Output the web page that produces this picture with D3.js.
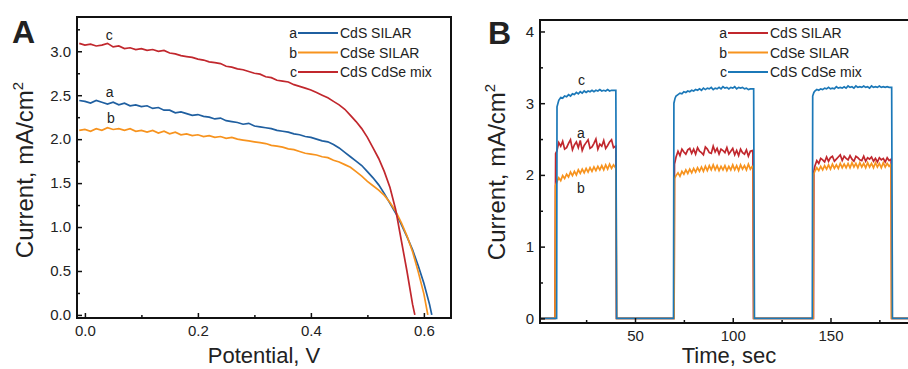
<!DOCTYPE html>
<html>
<head>
<meta charset="utf-8">
<script src="https://cdn.jsdelivr.net/npm/d3@7"></script>
<style>
  body { margin: 0; background: #fff; }
  text { font-family: "Liberation Sans", Arial, sans-serif; fill: #222; }
</style>
</head>
<body>
<div id="chart"></div>
<script>
// ---------- data: panel A (J-V curves) ----------
const potA = [-0.01,0.00,0.01,0.02,0.03,0.04,0.05,0.06,0.07,0.08,0.09,0.10,0.11,0.12,0.13,0.14,0.15,0.16,0.17,0.18,0.19,
  0.20,0.21,0.22,0.23,0.24,0.25,0.26,0.27,0.28,0.29,0.30,0.31,0.32,0.33,0.34,0.35,0.36,0.37,0.38,0.39,
  0.40,0.41,0.42,0.43,0.44,0.45,0.46,0.47,0.48,0.49,0.50,0.51,0.52,0.53,0.54,0.55,0.56,0.57,0.58,0.59,0.60,0.61];
const curA_CdS = [2.44,2.43,2.41,2.44,2.42,2.40,2.42,2.39,2.41,2.38,2.39,2.37,2.38,2.35,2.36,2.33,2.33,2.30,2.31,2.29,2.27,
  2.28,2.26,2.25,2.23,2.24,2.21,2.20,2.19,2.17,2.18,2.15,2.14,2.13,2.12,2.10,2.09,2.08,2.06,2.05,2.03,
  2.02,2.00,1.98,1.97,1.94,1.90,1.85,1.80,1.75,1.70,1.63,1.56,1.48,1.38,1.27,1.16,1.03,0.89,0.74,0.56,0.36,0.12];
const curA_CdSe = [2.10,2.11,2.09,2.12,2.10,2.13,2.11,2.12,2.10,2.12,2.09,2.10,2.08,2.10,2.07,2.09,2.06,2.08,2.05,2.06,2.04,
  2.05,2.03,2.04,2.02,2.03,2.01,2.02,2.00,1.99,1.98,1.97,1.96,1.95,1.93,1.92,1.91,1.89,1.88,1.86,1.84,
  1.83,1.82,1.80,1.79,1.76,1.74,1.71,1.68,1.63,1.58,1.52,1.47,1.42,1.36,1.28,1.18,1.05,0.90,0.72,0.49,0.24,null];
const curA_mix = [3.09,3.07,3.08,3.06,3.07,3.09,3.05,3.06,3.03,3.04,3.02,3.03,3.01,3.02,3.00,3.01,2.98,2.97,2.95,2.94,2.93,
  2.91,2.90,2.88,2.87,2.86,2.83,2.82,2.80,2.79,2.77,2.75,2.74,2.71,2.70,2.67,2.66,2.65,2.62,2.60,2.58,
  2.56,2.53,2.50,2.47,2.43,2.39,2.34,2.27,2.20,2.12,2.02,1.90,1.78,1.63,1.45,1.20,0.85,0.50,0.12,null,null,null];
// open-circuit end points [V, I]
const vocA = { CdS: [0.614, 0], CdSe: [0.607, 0], mix: [0.584, 0] };

// ---------- data: panel B (transient photocurrent) ----------
const timeB_CdS = [1.4,9.0,9.4,10,11,12,13,14,15,16,17,18,19,20,21,22,23,24,25,26,27,28,29,30,31,32,33,34,35,36,37,38,39,40,40.2,40.5,
  70.0,70.2,71,72,73,74,75,76,77,78,79,80,81,82,83,84,85,86,87,88,89,90,91,92,93,94,95,96,97,98,99,100,101,102,103,104,105,106,107,108,109,110,110.3,110.6,
  141.3,141.5,142,143,144,145,146,147,148,149,150,151,152,153,154,155,156,157,158,159,160,161,162,163,164,165,166,167,168,169,170,171,172,173,174,175,176,177,178,179,180,181,181.3,191];
const curB_CdS = [0,0,2.30,2.33,2.45,2.40,2.47,2.36,2.38,2.44,2.49,2.35,2.42,2.46,2.38,2.48,2.34,2.41,2.45,2.49,2.37,2.39,2.44,2.50,2.36,2.43,2.40,2.48,2.37,2.41,2.46,2.49,2.38,2.40,2.40,0,
  0,2.15,2.25,2.33,2.27,2.36,2.32,2.29,2.35,2.37,2.30,2.36,2.29,2.38,2.33,2.31,2.28,2.39,2.36,2.31,2.30,2.40,2.32,2.37,2.29,2.36,2.34,2.31,2.38,2.29,2.33,2.37,2.28,2.34,2.27,2.36,2.31,2.29,2.35,2.26,2.33,2.34,2.30,0,
  0,2.05,2.12,2.20,2.16,2.23,2.21,2.18,2.25,2.19,2.24,2.26,2.19,2.22,2.25,2.28,2.20,2.26,2.23,2.21,2.27,2.22,2.19,2.26,2.24,2.21,2.20,2.26,2.19,2.24,2.22,2.25,2.19,2.23,2.18,2.24,2.21,2.23,2.18,2.24,2.20,2.22,0,0];
const timeB_CdSe = [1.4,9.1,9.3,10,11,12,13,14,15,16,17,18,19,20,21,22,23,24,25,26,27,28,29,30,31,32,33,34,35,36,37,38,39,40,40.3,40.6,
  70.0,70.2,71,72,73,74,75,76,77,78,79,80,81,82,83,84,85,86,87,88,89,90,91,92,93,94,95,96,97,98,99,100,101,102,103,104,105,106,107,108,109,110,110.5,110.8,
  141.1,141.3,142,143,144,145,146,147,148,149,150,151,152,153,154,155,156,157,158,159,160,161,162,163,164,165,166,167,168,169,170,171,172,173,174,175,176,177,178,179,180,181,181.2,191];
const curB_CdSe = [0,0,1.85,1.90,1.96,1.92,1.99,1.95,2.01,1.97,2.04,1.99,2.05,2.00,2.07,2.02,2.08,2.03,2.09,2.04,2.10,2.05,2.11,2.06,2.12,2.07,2.13,2.07,2.14,2.08,2.15,2.09,2.14,2.10,2.10,0,
  0,1.95,1.99,2.03,1.98,2.05,2.01,2.07,2.02,2.08,2.03,2.09,2.04,2.10,2.05,2.11,2.05,2.12,2.06,2.13,2.07,2.14,2.07,2.13,2.06,2.12,2.07,2.13,2.06,2.12,2.07,2.14,2.07,2.13,2.06,2.14,2.08,2.13,2.07,2.15,2.08,2.12,2.12,0,
  0,2.00,2.05,2.10,2.06,2.12,2.07,2.13,2.08,2.14,2.08,2.15,2.09,2.14,2.09,2.16,2.10,2.15,2.10,2.16,2.10,2.17,2.11,2.16,2.10,2.17,2.11,2.16,2.10,2.17,2.11,2.16,2.10,2.17,2.11,2.16,2.10,2.17,2.11,2.16,2.12,2.15,0,0];
const timeB_mix = [1.4,9.9,10.1,11,12,13,14,15,16,17,18,19,20,21,22,23,24,25,26,27,28,29,30,31,32,33,34,35,36,37,38,39,40.2,40.6,
  69.7,69.9,70.5,71,72,73,74,75,76,77,78,79,80,81,82,83,84,85,86,87,88,89,90,91,92,93,94,95,96,97,98,99,100,101,102,103,104,105,106,107,108,109,110.7,111.1,
  140.7,140.9,141.5,142,143,144,145,146,147,148,149,150,151,152,153,154,155,156,157,158,159,160,161,162,163,164,165,166,167,168,169,170,171,172,173,174,175,176,177,178,179,180,181.3,181.7,191];
const curB_mix = [0,0,2.95,3.04,3.08,3.07,3.10,3.09,3.12,3.10,3.13,3.12,3.15,3.13,3.16,3.14,3.17,3.15,3.17,3.16,3.18,3.16,3.18,3.17,3.19,3.17,3.18,3.17,3.19,3.17,3.18,3.18,3.18,0,
  0,3.00,3.07,3.10,3.12,3.14,3.13,3.16,3.15,3.17,3.16,3.18,3.17,3.19,3.18,3.20,3.18,3.21,3.19,3.21,3.20,3.22,3.19,3.21,3.20,3.22,3.20,3.23,3.21,3.22,3.20,3.22,3.21,3.23,3.20,3.22,3.21,3.22,3.20,3.21,3.19,3.20,3.20,0,
  0,3.10,3.15,3.17,3.19,3.18,3.20,3.19,3.21,3.20,3.22,3.20,3.21,3.20,3.23,3.21,3.22,3.21,3.23,3.21,3.24,3.22,3.23,3.21,3.24,3.22,3.23,3.22,3.24,3.22,3.23,3.21,3.24,3.22,3.23,3.22,3.24,3.22,3.23,3.22,3.23,3.22,3.22,0,0];

const legendNames = ["CdS SILAR", "CdSe SILAR", "CdS CdSe mix"];
const curveTags = ["a", "b", "c"];

const RED = "#c1272d", ORANGE = "#f7931e", BLUE_A = "#1f5fa0", BLUE_B = "#1b78b8";

const WIDTH = 908, HEIGHT = 369;
const svg = d3.select("#chart").append("svg")
  .attr("width", WIDTH).attr("height", HEIGHT);

// ---------- helpers ----------
function pairs(xs, ys) {
  return xs.map((x, i) => [x, ys[i]]).filter(d => d[1] !== null);
}

function drawFrame(g, X, Y, box, opt) {
  // major & minor ticks pointing inward
  g.append("g").attr("transform", "translate(0," + box.bottom + ")")
    .call(d3.axisBottom(X).tickValues(opt.xMajor).tickFormat(opt.xFormat).tickSize(-5).tickPadding(7))
    .call(a => a.select(".domain").remove())
    .attr("font-size", "15px");
  g.append("g").attr("transform", "translate(0," + box.bottom + ")")
    .call(d3.axisBottom(X).tickValues(opt.xMinor).tickFormat("").tickSize(-3))
    .call(a => a.select(".domain").remove());
  g.append("g").attr("transform", "translate(" + box.left + ",0)")
    .call(d3.axisLeft(Y).tickValues(opt.yMajor).tickFormat(opt.yFormat).tickSize(-5).tickPadding(6))
    .call(a => a.select(".domain").remove())
    .attr("font-size", "15px");
  g.append("g").attr("transform", "translate(" + box.left + ",0)")
    .call(d3.axisLeft(Y).tickValues(opt.yMinor).tickFormat("").tickSize(-3))
    .call(a => a.select(".domain").remove());
  g.selectAll(".tick line").attr("stroke", "#111").attr("stroke-width", 1.5);
  g.selectAll(".tick text").attr("fill", "#222");
  g.append("rect")
    .attr("x", box.left).attr("y", box.top)
    .attr("width", box.right - box.left).attr("height", box.bottom - box.top)
    .attr("fill", "none").attr("stroke", "#111").attr("stroke-width", 2);
}

function drawLegend(g, x, y0, colors) {
  legendNames.forEach((name, i) => {
    const y = y0 + i * 19.5;
    g.append("text").attr("x", x).attr("y", y + 5).attr("font-size", "14px")
      .attr("text-anchor", "end").text(curveTags[i]);
    g.append("line").attr("x1", x + 1).attr("x2", x + 41).attr("y1", y).attr("y2", y)
      .attr("stroke", colors[i]).attr("stroke-width", 2);
    g.append("text").attr("x", x + 43).attr("y", y + 5).attr("font-size", "14px").text(name);
  });
}

// ---------- PANEL A ----------
const boxA = {left: 77, right: 451, top: 17, bottom: 318};
const XA = d3.scaleLinear().domain([-0.014, 0.648]).range([boxA.left, boxA.right]);
const YA = d3.scaleLinear().domain([-0.035, 3.39]).range([boxA.bottom, boxA.top]);
const gA = svg.append("g");

svg.append("clipPath").attr("id", "clipA").append("rect")
  .attr("x", boxA.left).attr("y", boxA.top)
  .attr("width", boxA.right - boxA.left).attr("height", boxA.bottom - boxA.top);

const lineA = d3.line().x(d => XA(d[0])).y(d => YA(d[1]));
const seriesA = [
  {data: pairs(potA, curA_CdS).concat([vocA.CdS]), color: BLUE_A},
  {data: pairs(potA, curA_CdSe).concat([vocA.CdSe]), color: ORANGE},
  {data: pairs(potA, curA_mix).concat([vocA.mix]), color: RED}
];
gA.append("g").attr("clip-path", "url(#clipA)")
  .selectAll("path").data(seriesA).enter().append("path")
  .attr("d", d => lineA(d.data))
  .attr("fill", "none").attr("stroke", d => d.color).attr("stroke-width", 1.7);

drawFrame(gA, XA, YA, boxA, {
  xMajor: [0, 0.2, 0.4, 0.6], xMinor: [0.1, 0.3, 0.5], xFormat: d3.format(".1f"),
  yMajor: [0, 0.5, 1, 1.5, 2, 2.5, 3], yMinor: [0.25, 0.75, 1.25, 1.75, 2.25, 2.75, 3.25], yFormat: d3.format(".1f")
});

// curve tags
gA.append("text").attr("x", XA(0.037)).attr("y", YA(3.13)).attr("font-size", "14px").text("c");
gA.append("text").attr("x", XA(0.037)).attr("y", YA(2.48)).attr("font-size", "14px").text("a");
gA.append("text").attr("x", XA(0.039)).attr("y", YA(2.185)).attr("font-size", "14px").text("b");

drawLegend(gA, 297, 33, [BLUE_A, ORANGE, RED]);

gA.append("text").attr("x", 12).attr("y", 43).attr("font-size", "32px").attr("font-weight", "bold")
  .attr("fill", "#111").text("A");
gA.append("text").attr("x", 264).attr("y", 363).attr("font-size", "22px").attr("text-anchor", "middle")
  .text("Potential, V");
gA.append("text").attr("transform", "translate(33,170) rotate(-90)").attr("font-size", "24px")
  .attr("text-anchor", "middle")
  .html("Current, mA/cm<tspan dy='-10' font-size='15px'>2</tspan>");

// ---------- PANEL B ----------
const boxB = {left: 540, right: 912, top: 20, bottom: 323};
const XB = d3.scaleLinear().domain([1.4, 191.7]).range([boxB.left, boxB.right]);
const YB = d3.scaleLinear().domain([-0.065, 4.16]).range([boxB.bottom, boxB.top]);
const gB = svg.append("g");

svg.append("clipPath").attr("id", "clipB").append("rect")
  .attr("x", boxB.left).attr("y", boxB.top)
  .attr("width", boxB.right - boxB.left).attr("height", boxB.bottom - boxB.top);

const lineB = d3.line().x(d => XB(d[0])).y(d => YB(d[1]));
const seriesB = [
  {data: pairs(timeB_CdS, curB_CdS), color: RED},
  {data: pairs(timeB_CdSe, curB_CdSe), color: ORANGE},
  {data: pairs(timeB_mix, curB_mix), color: BLUE_B}
];
gB.append("g").attr("clip-path", "url(#clipB)")
  .selectAll("path").data(seriesB).enter().append("path")
  .attr("d", d => lineB(d.data))
  .attr("fill", "none").attr("stroke", d => d.color).attr("stroke-width", 1.7);

drawFrame(gB, XB, YB, boxB, {
  xMajor: [50, 100, 150], xMinor: [25, 75, 125, 175], xFormat: d3.format("d"),
  yMajor: [0, 1, 2, 3, 4], yMinor: [0.5, 1.5, 2.5, 3.5], yFormat: d3.format("d")
});

gB.append("text").attr("x", XB(20.8)).attr("y", YB(3.25)).attr("font-size", "14px").text("c");
gB.append("text").attr("x", XB(20.3)).attr("y", YB(2.52)).attr("font-size", "14px").text("a");
gB.append("text").attr("x", XB(20.3)).attr("y", YB(1.75)).attr("font-size", "14px").text("b");

drawLegend(gB, 727, 33, [RED, ORANGE, BLUE_B]);

gB.append("text").attr("x", 488).attr("y", 44).attr("font-size", "32px").attr("font-weight", "bold")
  .attr("fill", "#111").text("B");
gB.append("text").attr("x", 729).attr("y", 363).attr("font-size", "22px").attr("text-anchor", "middle")
  .text("Time, sec");
gB.append("text").attr("transform", "translate(505,172) rotate(-90)").attr("font-size", "24px")
  .attr("text-anchor", "middle")
  .html("Current, mA/cm<tspan dy='-10' font-size='15px'>2</tspan>");
</script>
</body>
</html>
